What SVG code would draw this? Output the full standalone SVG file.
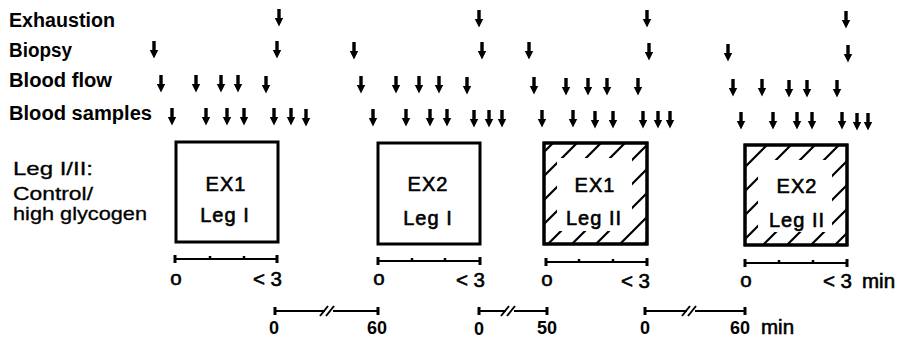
<svg xmlns="http://www.w3.org/2000/svg" xmlns:xlink="http://www.w3.org/1999/xlink" width="899" height="338" viewBox="0 0 899 338">
<style>
text{font-family:"Liberation Sans",Arial,Helvetica,sans-serif;fill:#000}
.lbl{font-size:19.5px;font-weight:bold}
.lbl2{font-size:19px;stroke:#000;stroke-width:0.3}
.box{fill:#fff;stroke:#000;stroke-width:3}
.bt{font-size:20px;letter-spacing:1px;text-anchor:middle;stroke:#000;stroke-width:0.6}
.sc{font-size:20.5px;stroke:#000;stroke-width:0.6}
.bn{font-size:18px;font-weight:bold;text-anchor:middle}
.ln{stroke:#000;stroke-width:2;fill:none}
.cap{stroke:#000;stroke-width:3;fill:none}
.tk{stroke:#000;stroke-width:2.5;fill:none}
.sl{stroke:#000;stroke-width:2;fill:none}
</style>
<defs>
<path id="ar" d="M-1.7,0 H1.7 V9 H4.2 L0,17.5 L-4.2,9 H-1.7 Z" fill="#000"/>
<pattern id="hatch" patternUnits="userSpaceOnUse" width="24" height="24">
<path d="M-6,6 L6,-6 M-6,30 L30,-6 M18,30 L30,18" stroke="#000" stroke-width="2.2" fill="none"/>
</pattern>
</defs>

<g id="labels">
<text class="lbl" x="9" y="27" textLength="106" lengthAdjust="spacingAndGlyphs">Exhaustion</text>
<text class="lbl" x="9" y="57" textLength="63" lengthAdjust="spacingAndGlyphs">Biopsy</text>
<text class="lbl" x="9" y="87" textLength="103" lengthAdjust="spacingAndGlyphs">Blood flow</text>
<text class="lbl" x="9" y="120" textLength="143" lengthAdjust="spacingAndGlyphs">Blood samples</text>
<text class="lbl2" x="13" y="175" textLength="80" lengthAdjust="spacingAndGlyphs">Leg I/II:</text>
<text class="lbl2" x="13" y="200" textLength="80" lengthAdjust="spacingAndGlyphs">Control/</text>
<text class="lbl2" x="13" y="220" textLength="134" lengthAdjust="spacingAndGlyphs">high glycogen</text>
</g>

<g id="arrows">
<g id="row-exhaustion">
<use href="#ar" x="279" y="9"/><use href="#ar" x="479" y="10"/><use href="#ar" x="647" y="10"/><use href="#ar" x="846" y="11"/>
</g>
<g id="row-biopsy">
<use href="#ar" x="154" y="41"/><use href="#ar" x="277" y="41"/><use href="#ar" x="354" y="42"/><use href="#ar" x="482" y="42"/><use href="#ar" x="529" y="42"/><use href="#ar" x="649" y="43"/><use href="#ar" x="728" y="44"/><use href="#ar" x="848" y="45"/>
</g>
<g id="row-bloodflow">
<use href="#ar" x="161" y="75"/><use href="#ar" x="196" y="75"/><use href="#ar" x="221" y="75"/><use href="#ar" x="238" y="75"/><use href="#ar" x="266" y="76"/>
<use href="#ar" x="361" y="76"/><use href="#ar" x="396" y="76"/><use href="#ar" x="419" y="76"/><use href="#ar" x="439" y="76"/><use href="#ar" x="467" y="77"/>
<use href="#ar" x="534" y="77"/><use href="#ar" x="566" y="78"/><use href="#ar" x="588" y="78"/><use href="#ar" x="607" y="78"/><use href="#ar" x="638" y="78"/>
<use href="#ar" x="733" y="79"/><use href="#ar" x="762" y="79"/><use href="#ar" x="789" y="80"/><use href="#ar" x="807" y="80"/><use href="#ar" x="837" y="80"/>
</g>
<g id="row-bloodsamples">
<use href="#ar" x="172" y="108"/><use href="#ar" x="206" y="108"/><use href="#ar" x="227" y="108"/><use href="#ar" x="244" y="108"/><use href="#ar" x="274" y="108"/><use href="#ar" x="291" y="108"/><use href="#ar" x="306" y="109"/>
<use href="#ar" x="373" y="109"/><use href="#ar" x="406" y="109"/><use href="#ar" x="430" y="109"/><use href="#ar" x="447" y="109"/><use href="#ar" x="474" y="110"/><use href="#ar" x="489" y="110"/><use href="#ar" x="502" y="110"/>
<use href="#ar" x="542" y="110"/><use href="#ar" x="573" y="110"/><use href="#ar" x="595" y="111"/><use href="#ar" x="613" y="111"/><use href="#ar" x="643" y="111"/><use href="#ar" x="658" y="111"/><use href="#ar" x="670" y="111"/>
<use href="#ar" x="741" y="112"/><use href="#ar" x="773" y="112"/><use href="#ar" x="797" y="112"/><use href="#ar" x="812" y="112"/><use href="#ar" x="842" y="112"/><use href="#ar" x="857" y="113"/><use href="#ar" x="868" y="113"/>
</g>
</g>

<g id="box-ex1-leg1">
<rect class="box" x="176" y="142" width="102" height="100"/>
<text class="bt" x="226" y="191">EX1</text>
<text class="bt" x="225" y="222">Leg I</text>
</g>
<g id="box-ex2-leg1">
<rect class="box" x="378" y="143" width="102" height="101"/>
<text class="bt" x="428" y="191">EX2</text>
<text class="bt" x="428" y="225">Leg I</text>
</g>
<g id="box-ex1-leg2">
<rect class="box" x="544" y="143" width="103" height="101"/>
<path d="M544,143 H647 V244 H544 Z M557,158 V231 H632 V158 Z" fill="url(#hatch)" fill-rule="evenodd"/>
<rect x="544" y="143" width="103" height="101" fill="none" stroke="#000" stroke-width="3"/>
<text class="bt" x="595" y="192">EX1</text>
<text class="bt" x="594" y="225">Leg II</text>
</g>
<g id="box-ex2-leg2">
<rect class="box" x="745" y="145" width="102" height="100"/>
<path d="M745,145 H847 V245 H745 Z M758,160 V232 H832 V160 Z" fill="url(#hatch)" fill-rule="evenodd"/>
<rect x="745" y="145" width="102" height="100" fill="none" stroke="#000" stroke-width="3"/>
<text class="bt" x="797" y="193">EX2</text>
<text class="bt" x="797" y="227">Leg II</text>
</g>

<g id="scale-1">
<path class="ln" d="M175,259 H277"/>
<path class="cap" d="M175,255 V263 M277,255 V263"/>
<path class="tk" d="M210,256 V259 M244,256 V259"/>
<text class="sc" x="176" y="285" text-anchor="middle">o</text>
<text class="sc" x="282" y="286" text-anchor="end">&lt; 3</text>
</g>
<g id="scale-2">
<path class="ln" d="M378,261 H480"/>
<path class="cap" d="M378,257 V265 M480,257 V265"/>
<path class="tk" d="M412,258 V261 M445,258 V261"/>
<text class="sc" x="379" y="285" text-anchor="middle">o</text>
<text class="sc" x="485" y="287" text-anchor="end">&lt; 3</text>
</g>
<g id="scale-3">
<path class="ln" d="M546,262 H647"/>
<path class="cap" d="M546,258 V266 M647,258 V266"/>
<path class="tk" d="M579,259 V262 M613,259 V262"/>
<text class="sc" x="547" y="286" text-anchor="middle">o</text>
<text class="sc" x="650" y="288" text-anchor="end">&lt; 3</text>
</g>
<g id="scale-4">
<path class="ln" d="M745,263 H847"/>
<path class="cap" d="M745,259 V267 M847,259 V267"/>
<path class="tk" d="M779,260 V263 M813,260 V263"/>
<text class="sc" x="746" y="287" text-anchor="middle">o</text>
<text class="sc" x="852" y="288" text-anchor="end">&lt; 3</text>
<text class="sc" x="862" y="288">min</text>
</g>

<g id="rest-1">
<path class="ln" d="M275,311 H325 M333,311 H378"/>
<path class="cap" d="M275,307 V315 M378,307 V315"/>
<path class="sl" d="M320,316 L328,306 M326,316 L334,306"/>
<text class="bn" x="274" y="334">0</text>
<text class="bn" x="377" y="334">60</text>
</g>
<g id="rest-2">
<path class="ln" d="M479,311 H506 M514,311 H547"/>
<path class="cap" d="M479,307 V315 M547,307 V315"/>
<path class="sl" d="M501,316 L509,306 M507,316 L515,306"/>
<text class="bn" x="479" y="335">0</text>
<text class="bn" x="547" y="334">50</text>
</g>
<g id="rest-3">
<path class="ln" d="M645,311 H687 M695,311 H745"/>
<path class="cap" d="M645,307 V315 M745,307 V315"/>
<path class="sl" d="M682,316 L690,306 M688,316 L696,306"/>
<text class="bn" x="645" y="334">0</text>
<text class="bn" x="740" y="334">60</text>
<text class="sc" x="761" y="334">min</text>
</g>
</svg>
